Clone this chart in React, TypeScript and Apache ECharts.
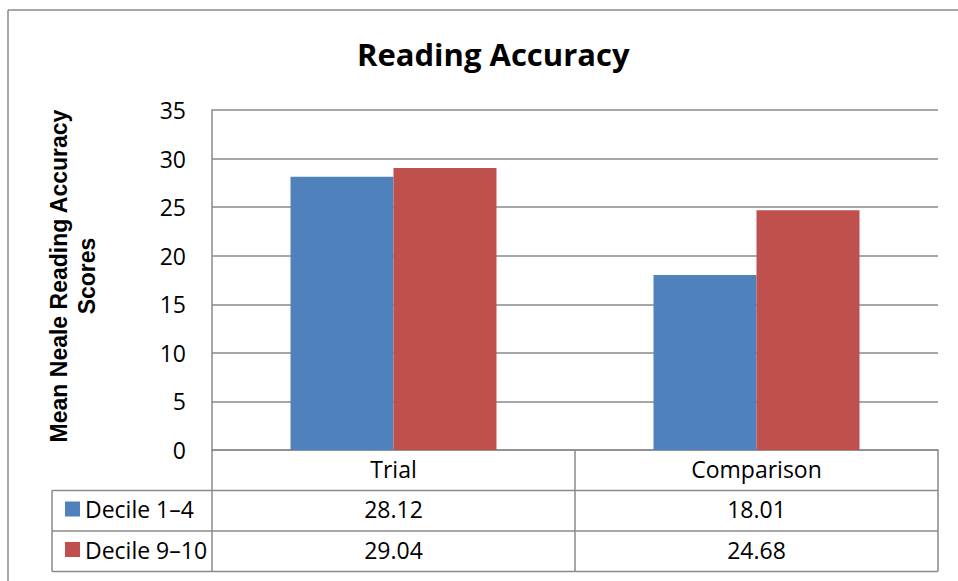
import React, { useEffect, useRef } from "react";
import * as echarts from "echarts";

const categories = ["Trial", "Comparison"];
const seriesNames = ["Decile 1–4", "Decile 9–10"];
const decile14 = [28.12, 18.01];
const decile910 = [29.04, 24.68];
const yMin = 0;
const yMax = 35;
const yInterval = 5;

const FONT = "'Open Sans', sans-serif";
const GRAY = "#8a8a8a";
const BLUE = "#4F81BD";
const RED = "#C0504D";

// layout constants
const W = 958;
const H = 581;
const PLOT_L = 212;
const PLOT_R = 938;
const PLOT_T = 110;
const PLOT_B = 450;
const ROW1 = 490.5;
const ROW2 = 531;
const ROW3 = 571.5;
const MID_X = 575;
const TABLE_L = 52;
const FS = 23;

export default function App() {
  const ref = useRef<HTMLDivElement>(null);
  useEffect(() => {
    if (!ref.current) return;
    const chart = echarts.init(ref.current, undefined, { renderer: "svg" });
    const lineStyle = { stroke: GRAY, lineWidth: 1.5 };
    const ln = (x1: number, y1: number, x2: number, y2: number) => ({
      type: "line",
      shape: { x1, y1, x2, y2 },
      style: lineStyle,
      silent: true,
    });
    const labelStyle = {
      fontFamily: FONT,
      fontSize: FS,
      color: "#000",
      interval: 0,
      margin: 7,
    };
    const legendBase = {
      orient: "vertical",
      left: 60,
      itemWidth: 15,
      itemHeight: 15,
      itemGap: 0,
      icon: "rect",
      textStyle: { fontFamily: FONT, fontSize: FS, color: "#000" },
      selectedMode: false,
    };
    chart.setOption({
      animation: false,
      backgroundColor: "#fff",
      title: {
        text: "Reading Accuracy",
        left: 352,
        top: 33,
        textStyle: {
          fontFamily: FONT,
          fontSize: 31,
          fontWeight: "bold",
          color: "#000",
        },
      },
      legend: [
        { ...legendBase, data: [seriesNames[0]], top: ROW1 + 2 },
        { ...legendBase, data: [seriesNames[1]], top: ROW2 + 2 },
      ],
      grid: {
        left: PLOT_L,
        right: W - PLOT_R,
        top: PLOT_T,
        bottom: H - PLOT_B,
        containLabel: false,
      },
      xAxis: [
        {
          type: "category",
          data: categories,
          axisLine: { show: true, lineStyle: { color: GRAY, width: 1.5 } },
          axisTick: { show: false },
          axisLabel: labelStyle,
          splitLine: { show: false },
        },
        {
          type: "category",
          data: decile14.map((v) => v.toFixed(2)),
          position: "bottom",
          offset: ROW1 - PLOT_B,
          axisLine: { show: false },
          axisTick: { show: false },
          axisLabel: labelStyle,
          axisPointer: { show: false },
        },
        {
          type: "category",
          data: decile910.map((v) => v.toFixed(2)),
          position: "bottom",
          offset: ROW2 - PLOT_B,
          axisLine: { show: false },
          axisTick: { show: false },
          axisLabel: labelStyle,
          axisPointer: { show: false },
        },
      ],
      yAxis: {
        type: "value",
        min: yMin,
        max: yMax,
        interval: yInterval,
        axisLine: { show: true, lineStyle: { color: GRAY, width: 1.5 } },
        axisTick: { show: false },
        axisLabel: {
          fontFamily: FONT,
          fontSize: FS,
          color: "#000",
          margin: 26,
        },
        splitLine: { show: true, lineStyle: { color: GRAY, width: 1.5 } },
      },
      series: [
        {
          name: seriesNames[0],
          type: "bar",
          data: decile14,
          barWidth: 103,
          barGap: "0%",
          itemStyle: { color: BLUE },
        },
        {
          name: seriesNames[1],
          type: "bar",
          data: decile910,
          barWidth: 103,
          barGap: "0%",
          itemStyle: { color: RED },
        },
      ],
      graphic: [
        ln(8, 10, W, 10),
        ln(8, 10, 8, H),
        ln(TABLE_L, ROW1, PLOT_R, ROW1),
        ln(TABLE_L, ROW2, PLOT_R, ROW2),
        ln(TABLE_L, ROW3, PLOT_R, ROW3),
        ln(TABLE_L, ROW1, TABLE_L, ROW3),
        ln(PLOT_L, PLOT_B, PLOT_L, ROW3),
        ln(MID_X, PLOT_B, MID_X, ROW3),
        ln(PLOT_R, PLOT_B, PLOT_R, ROW3),
        {
          type: "text",
          x: 73,
          y: 276,
          rotation: Math.PI / 2,
          style: {
            text: "Mean Neale Reading Accuracy\nScores",
            fontFamily: "'Liberation Sans', Arial, sans-serif",
            fontSize: 23,
            fontWeight: "bold",
            fill: "#000",
            align: "center",
            verticalAlign: "middle",
            lineHeight: 28,
          },
        },
      ],
    });
    return () => chart.dispose();
  }, []);
  return (
    <div
      ref={ref}
      style={{ position: "fixed", left: 0, top: 0, width: W, height: H }}
    />
  );
}
